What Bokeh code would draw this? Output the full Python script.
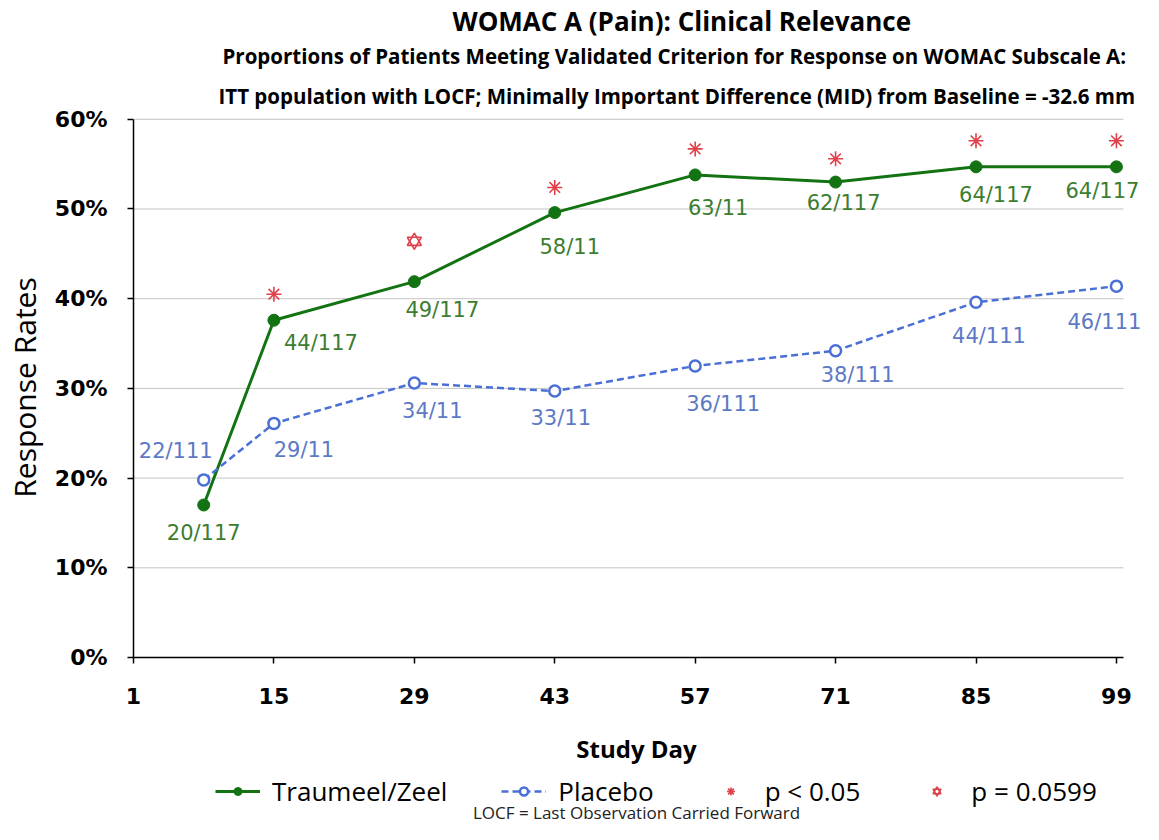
from bokeh.plotting import figure
from bokeh.layouts import column
from bokeh.models import (Range1d, FixedTicker, NumeralTickFormatter, Title, Legend,
                          LegendItem, ColumnDataSource, LabelSet, Label)
from bokeh.core.properties import value
from bokeh.embed import file_html
from bokeh.resources import INLINE

# ---------------- data ----------------
days = [8, 15, 29, 43, 57, 71, 85, 99]
traumeel = [0.170, 0.376, 0.419, 0.496, 0.538, 0.530, 0.547, 0.547]
placebo = [0.198, 0.261, 0.306, 0.297, 0.325, 0.342, 0.396, 0.414]
traumeel_labels = ["20/117", "44/117", "49/117", "58/11", "63/11", "62/117", "64/117", "64/117"]
placebo_labels = ["22/111", "29/11", "34/11", "33/11", "36/111", "38/111", "44/111", "46/111"]
sig_days = [15, 43, 57, 71, 85, 99]
sig_values = [0.405, 0.524, 0.567, 0.556, 0.576, 0.576]
trend_days = [29]
trend_values = [0.464]
x_ticks = [1, 15, 29, 43, 57, 71, 85, 99]
y_ticks = [0.0, 0.1, 0.2, 0.3, 0.4, 0.5, 0.6]
legend_labels = ["Traumeel/Zeel", "Placebo", "p < 0.05", "p = 0.0599"]
x_title = "Study Day"
y_title = "Response Rates"
note_text = "LOCF = Last Observation Carried Forward"
x_start, x_axis_end, x_view_end = 1, 99.7, 101.7

# ---------------- label placement (screen px) ----------------
t_dx = [0, 47, 28, 15, 23, 8, 20, -14]
t_dy = [28, 23, 28, 34, 33, 21, 28, 24]
p_dx = [-28, 30, 18, 6, 28, 22, 13, -12]
p_dy = [-29, 27, 28, 27, 38, 24, 34, 36]

GREEN = "#137313"
GREEN_TXT = "#3d7d30"
BLUE = "#4a6fd6"
BLUE_TXT = "#5c79c6"
RED = "#e0404a"
FONT = "Open Sans"
W = 1143
LEFT = 125
BOTTOM = 73
H_MAIN = 657 + BOTTOM
H_STRIP = 824 - H_MAIN

p = figure(width=W, height=H_MAIN, x_range=Range1d(x_start, x_view_end),
           y_range=Range1d(0, 0.602),
           output_backend="svg", toolbar_location=None,
           min_border_left=LEFT, min_border_right=0, min_border_top=110, min_border_bottom=BOTTOM)
p.outline_line_color = None
p.xgrid.visible = False
p.ygrid.visible = False

# horizontal gridlines limited to the axis extent
p.segment(x0=[x_start] * len(y_ticks), x1=[x_axis_end] * len(y_ticks), y0=y_ticks, y1=y_ticks,
          line_color="#c4c4c4", line_width=1)

# axes
p.xaxis.ticker = FixedTicker(ticks=x_ticks)
p.yaxis.ticker = FixedTicker(ticks=y_ticks)
p.yaxis.formatter = NumeralTickFormatter(format="0%")
p.xaxis.bounds = (x_start, x_axis_end)
p.yaxis.bounds = (0, 0.6)
for ax in (p.xaxis[0], p.yaxis[0]):
    ax.axis_line_color = "black"
    ax.axis_line_width = 1.5
    ax.major_tick_line_color = "black"
    ax.major_tick_line_width = 1.5
    ax.major_tick_out = 6
    ax.major_tick_in = 0
    ax.minor_tick_out = 0
    ax.minor_tick_in = 0
    ax.major_label_text_font = "DejaVu Sans"
    ax.major_label_text_font_style = "bold"
    ax.major_label_text_font_size = "22px"
    ax.major_label_text_color = "black"
    ax.axis_label_text_color = "black"
    ax.axis_label_text_font = FONT
p.xaxis.major_label_standoff = 24
p.yaxis.major_label_standoff = 20
p.yaxis.axis_label = y_title
p.yaxis.axis_label_text_font_style = "normal"
p.yaxis.axis_label_text_font_size = "30px"
p.yaxis.axis_label_standoff = 7

# series
def draw_series(fig, xs, ys, xs_sig, ys_sig, xs_tr, ys_tr):
    r = {}
    r["t_line"] = fig.line(xs, ys[0], line_color=GREEN, line_width=3)
    r["t_pts"] = fig.scatter(xs, ys[0], marker="circle", size=12, fill_color=GREEN, line_color=GREEN)
    r["p_line"] = fig.line(xs, ys[1], line_color=BLUE, line_width=2.5, line_dash="7 4")
    r["p_pts"] = fig.scatter(xs, ys[1], marker="circle", size=11, fill_color="white",
                             line_color=BLUE, line_width=2.5)
    r["sig"] = fig.scatter(xs_sig, ys_sig, marker="asterisk", size=15, line_color=RED, line_width=1.6)
    r["tr1"] = fig.scatter(xs_tr, ys_tr, marker="triangle", size=14, fill_color=None,
                           line_color=RED, line_width=1.6)
    r["tr2"] = fig.scatter(xs_tr, ys_tr, marker="inverted_triangle", size=14, fill_color=None,
                           line_color=RED, line_width=1.6)
    return r

draw_series(p, days, (traumeel, placebo), sig_days, sig_values, trend_days, trend_values)

# data labels
t_src = ColumnDataSource(dict(x=days, y=traumeel, text=traumeel_labels,
                              dx=t_dx, dy=[-d for d in t_dy]))
p_src = ColumnDataSource(dict(x=days, y=placebo, text=placebo_labels,
                              dx=p_dx, dy=[-d for d in p_dy]))
for src, col in ((t_src, GREEN_TXT), (p_src, BLUE_TXT)):
    p.add_layout(LabelSet(x="x", y="y", text="text", source=src, x_offset="dx", y_offset="dy",
                          text_align="center", text_baseline="middle",
                          text_font=value("DejaVu Sans"), text_font_size="21px",
                          text_color=col))

# titles (added from nearest the plot outward)
sub2 = Title(text="ITT population with LOCF; Minimally Important Difference (MID) from Baseline =  -32.6 mm",
             align="left", offset=85, text_font=FONT, text_font_size="20.5px", text_font_style="bold",
             text_color="black", standoff=16)
sub1 = Title(text="Proportions of Patients Meeting Validated Criterion for Response on WOMAC Subscale A:",
             align="left", offset=89, text_font=FONT, text_font_size="20.5px", text_font_style="bold",
             text_color="black", standoff=3)
main = Title(text="WOMAC A (Pain): Clinical Relevance",
             align="left", offset=319, text_font=FONT, text_font_size="26px", text_font_style="bold",
             text_color="black", standoff=0)
p.add_layout(sub2, "above")
p.add_layout(sub1, "above")
p.add_layout(main, "above")

# ---------------- strip below: axis title, legend, note ----------------
# the strip's frame is aligned with the chart's frame; its data window lies away from
# the series values, so its own copies of the series stay hidden and only feed the legend
Y0 = 10
lg = figure(width=W, height=H_STRIP, x_range=Range1d(LEFT, W), y_range=Range1d(Y0, Y0 + H_STRIP),
            output_backend="svg", toolbar_location=None, x_axis_location=None, y_axis_location=None,
            min_border_left=LEFT, min_border_right=0, min_border_top=0, min_border_bottom=0)
lg.grid.visible = False
lg.outline_line_color = None
lr = draw_series(lg, days, (traumeel, placebo), sig_days, sig_values, trend_days, trend_values)
legend = Legend(items=[
    LegendItem(label=legend_labels[0], renderers=[lr["t_line"], lr["t_pts"]]),
    LegendItem(label=legend_labels[1], renderers=[lr["p_line"], lr["p_pts"]]),
    LegendItem(label=legend_labels[2], renderers=[lr["sig"]]),
    LegendItem(label=legend_labels[3], renderers=[lr["tr1"], lr["tr2"]]),
], orientation="horizontal", location=(82, 15), border_line_color=None,
   background_fill_alpha=0, label_text_font=FONT, label_text_font_size="26px",
   label_text_color="black", glyph_width=45, spacing=54, label_standoff=12, padding=2, margin=0)
lg.add_layout(legend, "center")
lg.add_layout(Label(x=632, y=Y0 + H_STRIP - 18, text=x_title, text_align="center",
                    text_baseline="middle", text_font=FONT, text_font_size="24px",
                    text_font_style="bold", text_color="black"))
lg.add_layout(Label(x=632, y=Y0 + 12, text=note_text, text_align="center", text_baseline="middle",
                    text_font=FONT, text_font_size="17px", text_color="#222222"))

open("out.html", "w").write(file_html(column(p, lg, spacing=0), INLINE))
